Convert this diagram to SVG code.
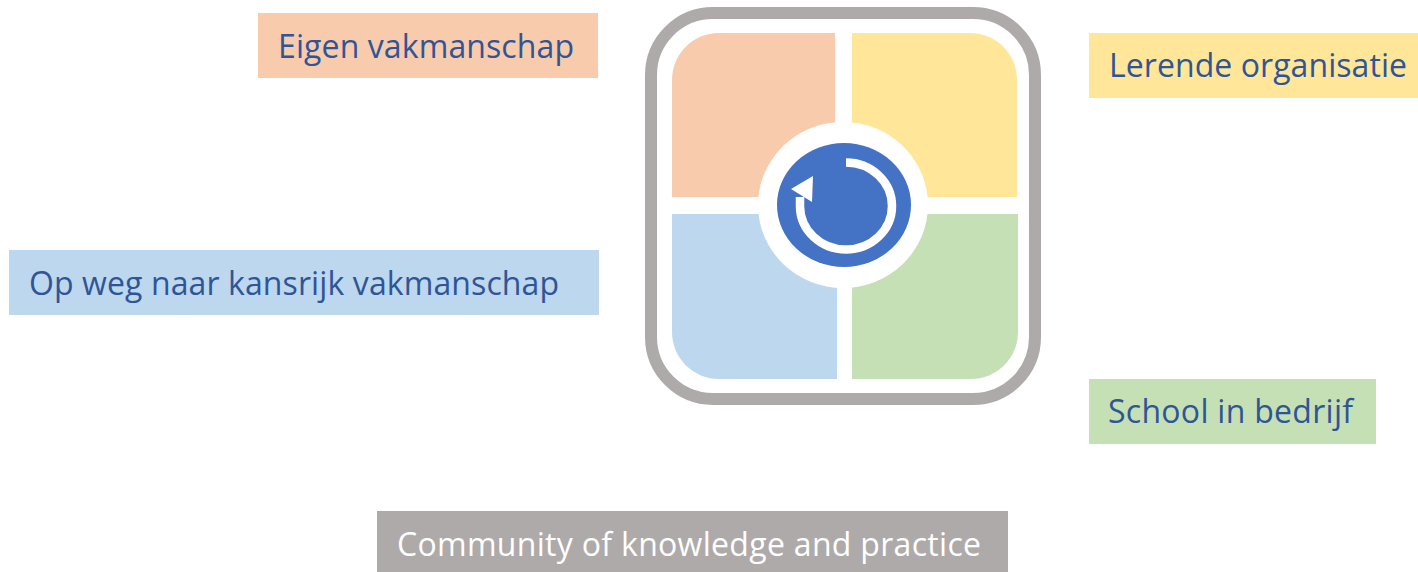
<svg xmlns="http://www.w3.org/2000/svg" width="1418" height="572" viewBox="0 0 1418 572">
<style>
.lbl{font-family:"Open Sans","Noto Sans","Liberation Sans",sans-serif;font-size:32px;fill:#2F5597}
</style>
<rect width="1418" height="572" fill="#FFFFFF"/>
<g id="frame"><rect x="651" y="13" width="384" height="386" rx="62" ry="62" fill="#FFFFFF" stroke="#AEAAAA" stroke-width="12"/></g>
<g id="quadrant-peach"><path d="M835 33V197H672V80A47 47 0 0 1 719 33Z" fill="#F8CBAD"/></g>
<g id="quadrant-yellow"><path d="M852 33H970A47 47 0 0 1 1017 80V197H852Z" fill="#FFE699"/></g>
<g id="quadrant-blue"><path d="M672 214H837V379H719A47 47 0 0 1 672 332Z" fill="#BDD7EE"/></g>
<g id="quadrant-green"><path d="M852 214H1018V332A47 47 0 0 1 971 379H852Z" fill="#C5E0B4"/></g>
<g id="hub">
<ellipse cx="843" cy="205" rx="85" ry="83" fill="#FFFFFF"/>
<ellipse cx="844" cy="205" rx="67" ry="62" fill="#4472C4"/>
<path d="M846 162.500A46 43.500 0 1 1 800 206L800 197" fill="none" stroke="#FFFFFF" stroke-width="8.500"/>
<path d="M791 189L813 176L812 202Z" fill="#FFFFFF"/>
</g>
<g id="label-eigen"><rect x="258" y="13" width="340" height="65" fill="#F8CBAD"/><text class="lbl" x="278" y="58" textLength="296">Eigen vakmanschap</text></g>
<g id="label-lerende"><rect x="1089" y="33" width="329" height="65" fill="#FFE699"/><text class="lbl" x="1109" y="77" textLength="298">Lerende organisatie</text></g>
<g id="label-opweg"><rect x="9" y="250" width="590" height="65" fill="#BDD7EE"/><text class="lbl" x="29" y="295" textLength="530">Op weg naar kansrijk vakmanschap</text></g>
<g id="label-school"><rect x="1089" y="379" width="287" height="65" fill="#C5E0B4"/><text class="lbl" x="1108" y="423" textLength="245">School in bedrijf</text></g>
<g id="label-community"><rect x="377" y="511" width="631" height="61" fill="#AEAAAA"/><text class="lbl" x="397" y="556" style="fill:#FFFFFF" textLength="584">Community of knowledge and practice</text></g>
<g id="connectors"></g>
</svg>
